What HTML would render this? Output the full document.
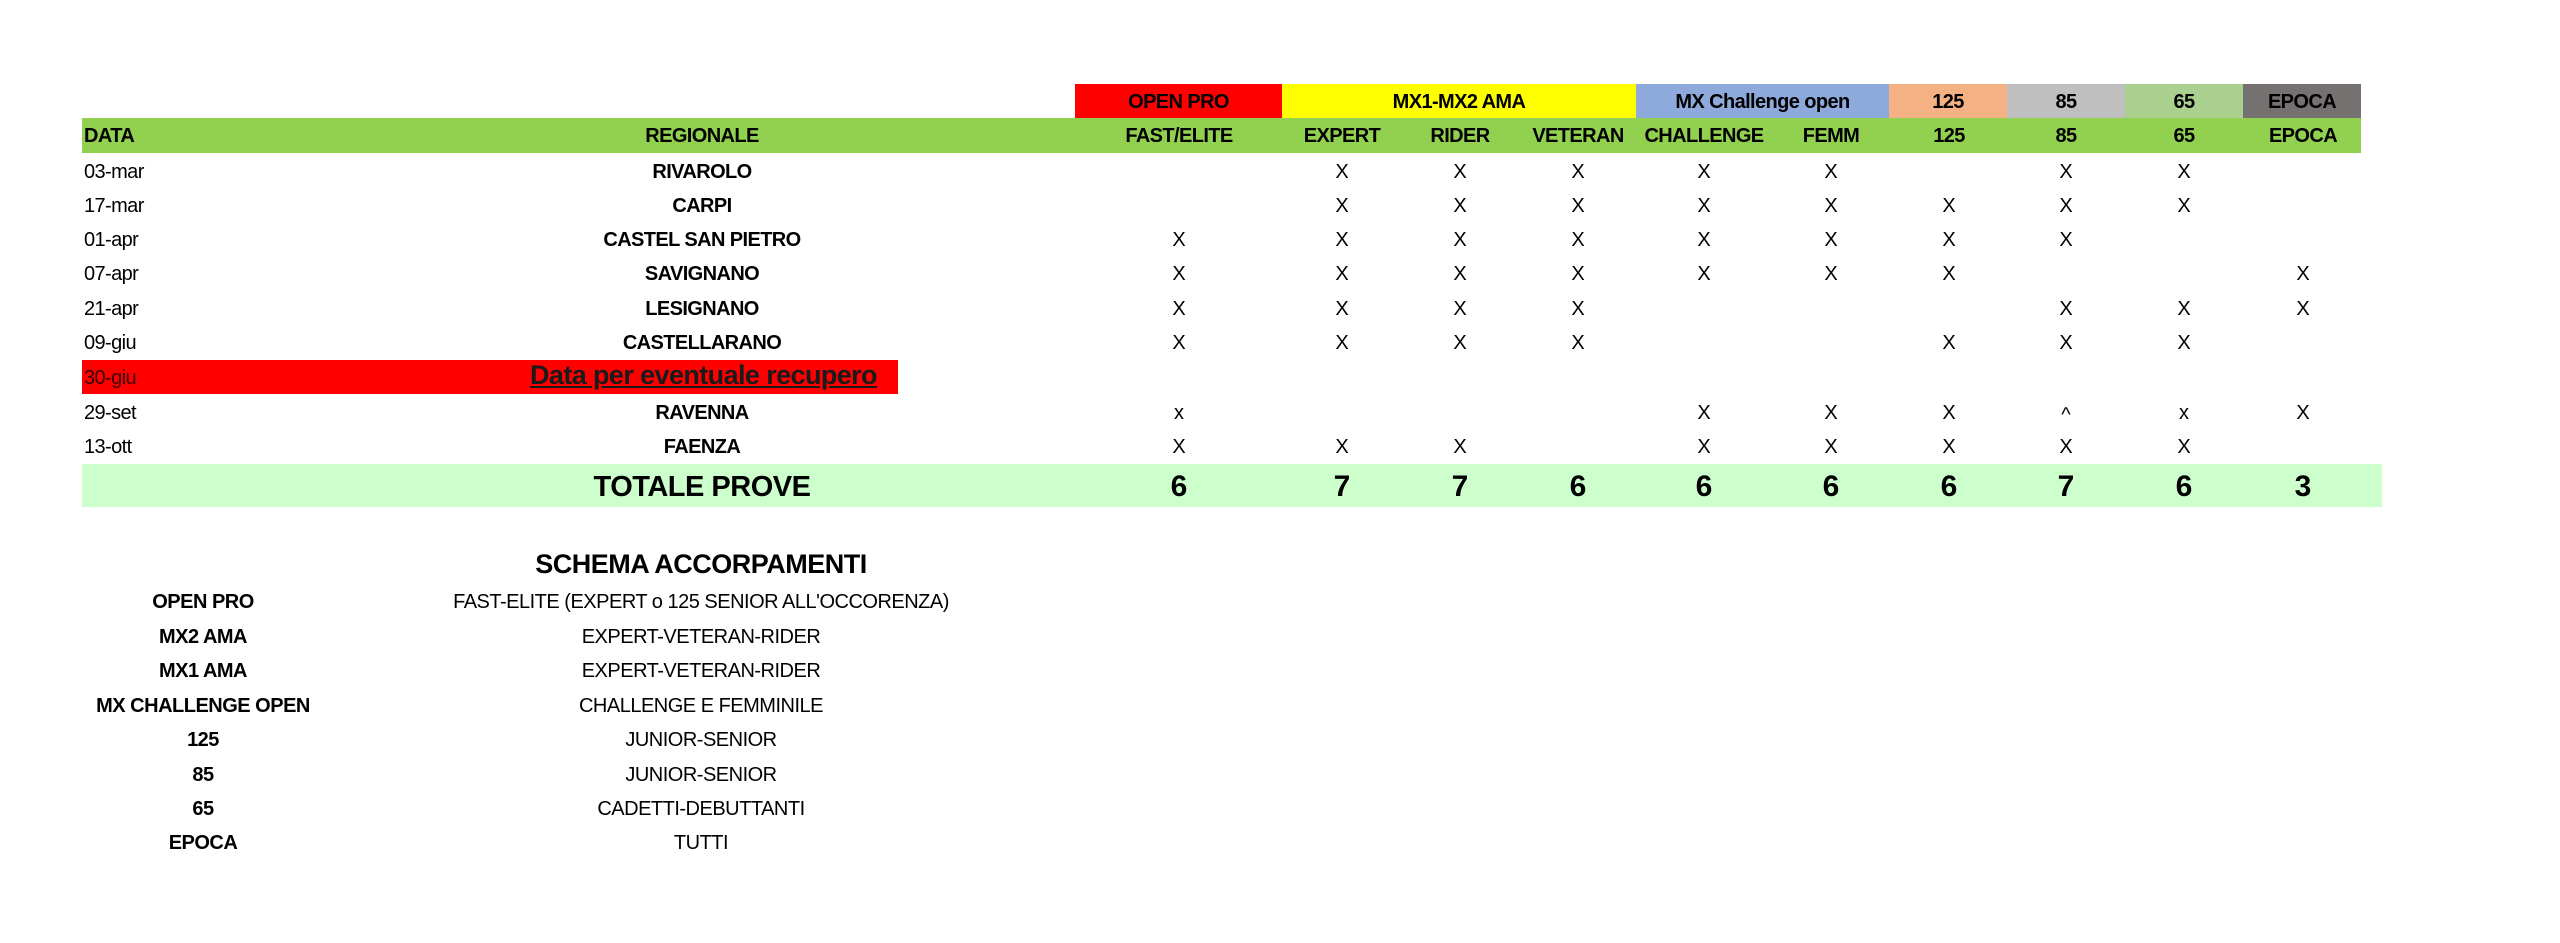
<!DOCTYPE html>
<html><head><meta charset="utf-8"><style>
body{margin:0;width:2560px;height:943px;background:#fff;position:relative;overflow:hidden;font-family:"Liberation Sans",sans-serif;color:#000}
div{position:absolute}
.b{font-weight:bold}
.t{font-size:20px;letter-spacing:-0.6px;line-height:34px;height:34px;white-space:nowrap}
.c{width:120px;text-align:center}
.x{font-size:20px;line-height:34px;width:120px;text-align:center}
.h{top:84px;height:34px;line-height:36px;text-align:center;font-weight:bold;font-size:20px;letter-spacing:-0.6px}
.tot{top:466px;font-size:30px;line-height:42px;font-weight:bold;width:120px;text-align:center}
.s{font-size:20px;letter-spacing:-0.5px;line-height:34px;white-space:nowrap;text-align:center}
</style></head><body>
<div class="h" style="left:1075px;width:207px;background:#ff0000">OPEN PRO</div>
<div class="h" style="left:1282px;width:354px;background:#ffff00">MX1-MX2 AMA</div>
<div class="h" style="left:1636px;width:253px;background:#8ea9db">MX Challenge open</div>
<div class="h" style="left:1889px;width:118px;background:#f4b183">125</div>
<div class="h" style="left:2007px;width:118px;background:#bfbfbf">85</div>
<div class="h" style="left:2125px;width:118px;background:#a9d08e">65</div>
<div class="h" style="left:2243px;width:118px;background:#767171">EPOCA</div>
<div style="left:82px;top:118px;width:2279px;height:35px;background:#92d050"></div>
<div class="t b" style="left:84px;top:119px">DATA</div>
<div class="t b c" style="left:582px;top:119px;width:240px">REGIONALE</div>
<div class="t b c" style="left:1119px;top:119px">FAST/ELITE</div>
<div class="t b c" style="left:1282px;top:119px">EXPERT</div>
<div class="t b c" style="left:1400px;top:119px">RIDER</div>
<div class="t b c" style="left:1518px;top:119px">VETERAN</div>
<div class="t b c" style="left:1644px;top:119px">CHALLENGE</div>
<div class="t b c" style="left:1771px;top:119px">FEMM</div>
<div class="t b c" style="left:1889px;top:119px">125</div>
<div class="t b c" style="left:2006px;top:119px">85</div>
<div class="t b c" style="left:2124px;top:119px">65</div>
<div class="t b c" style="left:2243px;top:119px">EPOCA</div>
<div style="left:82px;top:360px;width:816px;height:34px;background:#ff0000"></div>
<div class="t" style="left:84px;top:361px;color:#3a0000">30-giu</div>
<div class="b" style="left:530px;top:359px;font-size:27px;line-height:32px;text-decoration:underline;color:#1a1a1a;letter-spacing:-0.6px;white-space:nowrap">Data per eventuale recupero</div>
<div class="t" style="left:84px;top:155px">03-mar</div><div class="t b c" style="left:582px;top:155px;width:240px">RIVAROLO</div>
<div class="t" style="left:84px;top:189px">17-mar</div><div class="t b c" style="left:582px;top:189px;width:240px">CARPI</div>
<div class="t" style="left:84px;top:223px">01-apr</div><div class="t b c" style="left:582px;top:223px;width:240px">CASTEL SAN PIETRO</div>
<div class="t" style="left:84px;top:257px">07-apr</div><div class="t b c" style="left:582px;top:257px;width:240px">SAVIGNANO</div>
<div class="t" style="left:84px;top:292px">21-apr</div><div class="t b c" style="left:582px;top:292px;width:240px">LESIGNANO</div>
<div class="t" style="left:84px;top:326px">09-giu</div><div class="t b c" style="left:582px;top:326px;width:240px">CASTELLARANO</div>
<div class="t" style="left:84px;top:396px">29-set</div><div class="t b c" style="left:582px;top:396px;width:240px">RAVENNA</div>
<div class="t" style="left:84px;top:430px">13-ott</div><div class="t b c" style="left:582px;top:430px;width:240px">FAENZA</div>
<div class="x" style="top:155px;left:1282px">X</div><div class="x" style="top:155px;left:1400px">X</div><div class="x" style="top:155px;left:1518px">X</div><div class="x" style="top:155px;left:1644px">X</div><div class="x" style="top:155px;left:1771px">X</div><div class="x" style="top:155px;left:2006px">X</div><div class="x" style="top:155px;left:2124px">X</div>
<div class="x" style="top:189px;left:1282px">X</div><div class="x" style="top:189px;left:1400px">X</div><div class="x" style="top:189px;left:1518px">X</div><div class="x" style="top:189px;left:1644px">X</div><div class="x" style="top:189px;left:1771px">X</div><div class="x" style="top:189px;left:1889px">X</div><div class="x" style="top:189px;left:2006px">X</div><div class="x" style="top:189px;left:2124px">X</div>
<div class="x" style="top:223px;left:1119px">X</div><div class="x" style="top:223px;left:1282px">X</div><div class="x" style="top:223px;left:1400px">X</div><div class="x" style="top:223px;left:1518px">X</div><div class="x" style="top:223px;left:1644px">X</div><div class="x" style="top:223px;left:1771px">X</div><div class="x" style="top:223px;left:1889px">X</div><div class="x" style="top:223px;left:2006px">X</div>
<div class="x" style="top:257px;left:1119px">X</div><div class="x" style="top:257px;left:1282px">X</div><div class="x" style="top:257px;left:1400px">X</div><div class="x" style="top:257px;left:1518px">X</div><div class="x" style="top:257px;left:1644px">X</div><div class="x" style="top:257px;left:1771px">X</div><div class="x" style="top:257px;left:1889px">X</div><div class="x" style="top:257px;left:2243px">X</div>
<div class="x" style="top:292px;left:1119px">X</div><div class="x" style="top:292px;left:1282px">X</div><div class="x" style="top:292px;left:1400px">X</div><div class="x" style="top:292px;left:1518px">X</div><div class="x" style="top:292px;left:2006px">X</div><div class="x" style="top:292px;left:2124px">X</div><div class="x" style="top:292px;left:2243px">X</div>
<div class="x" style="top:326px;left:1119px">X</div><div class="x" style="top:326px;left:1282px">X</div><div class="x" style="top:326px;left:1400px">X</div><div class="x" style="top:326px;left:1518px">X</div><div class="x" style="top:326px;left:1889px">X</div><div class="x" style="top:326px;left:2006px">X</div><div class="x" style="top:326px;left:2124px">X</div>
<div class="x" style="top:396px;left:1119px">x</div><div class="x" style="top:396px;left:1644px">X</div><div class="x" style="top:396px;left:1771px">X</div><div class="x" style="top:396px;left:1889px">X</div><div class="x" style="top:398px;left:2006px">^</div><div class="x" style="top:396px;left:2124px">x</div><div class="x" style="top:396px;left:2243px">X</div>
<div class="x" style="top:430px;left:1119px">X</div><div class="x" style="top:430px;left:1282px">X</div><div class="x" style="top:430px;left:1400px">X</div><div class="x" style="top:430px;left:1644px">X</div><div class="x" style="top:430px;left:1771px">X</div><div class="x" style="top:430px;left:1889px">X</div><div class="x" style="top:430px;left:2006px">X</div><div class="x" style="top:430px;left:2124px">X</div>
<div style="left:82px;top:464px;width:2300px;height:43px;background:#ccffcc"></div>
<div class="b" style="left:502px;top:466px;width:400px;text-align:center;font-size:29px;line-height:42px;letter-spacing:-0.5px">TOTALE PROVE</div>
<div class="tot" style="left:1119px">6</div><div class="tot" style="left:1282px">7</div><div class="tot" style="left:1400px">7</div><div class="tot" style="left:1518px">6</div><div class="tot" style="left:1644px">6</div><div class="tot" style="left:1771px">6</div><div class="tot" style="left:1889px">6</div><div class="tot" style="left:2006px">7</div><div class="tot" style="left:2124px">6</div><div class="tot" style="left:2243px">3</div>
<div class="b s" style="left:451px;top:546px;width:500px;font-size:27px;line-height:36px">SCHEMA ACCORPAMENTI</div>
<div class="b s" style="left:53px;top:585px;width:300px">OPEN PRO</div><div class="s" style="left:401px;top:585px;width:600px">FAST-ELITE (EXPERT o 125 SENIOR ALL'OCCORENZA)</div>
<div class="b s" style="left:53px;top:620px;width:300px">MX2 AMA</div><div class="s" style="left:401px;top:620px;width:600px">EXPERT-VETERAN-RIDER</div>
<div class="b s" style="left:53px;top:654px;width:300px">MX1 AMA</div><div class="s" style="left:401px;top:654px;width:600px">EXPERT-VETERAN-RIDER</div>
<div class="b s" style="left:53px;top:689px;width:300px">MX CHALLENGE OPEN</div><div class="s" style="left:401px;top:689px;width:600px">CHALLENGE E FEMMINILE</div>
<div class="b s" style="left:53px;top:723px;width:300px">125</div><div class="s" style="left:401px;top:723px;width:600px">JUNIOR-SENIOR</div>
<div class="b s" style="left:53px;top:758px;width:300px">85</div><div class="s" style="left:401px;top:758px;width:600px">JUNIOR-SENIOR</div>
<div class="b s" style="left:53px;top:792px;width:300px">65</div><div class="s" style="left:401px;top:792px;width:600px">CADETTI-DEBUTTANTI</div>
<div class="b s" style="left:53px;top:826px;width:300px">EPOCA</div><div class="s" style="left:401px;top:826px;width:600px">TUTTI</div>
</body></html>
